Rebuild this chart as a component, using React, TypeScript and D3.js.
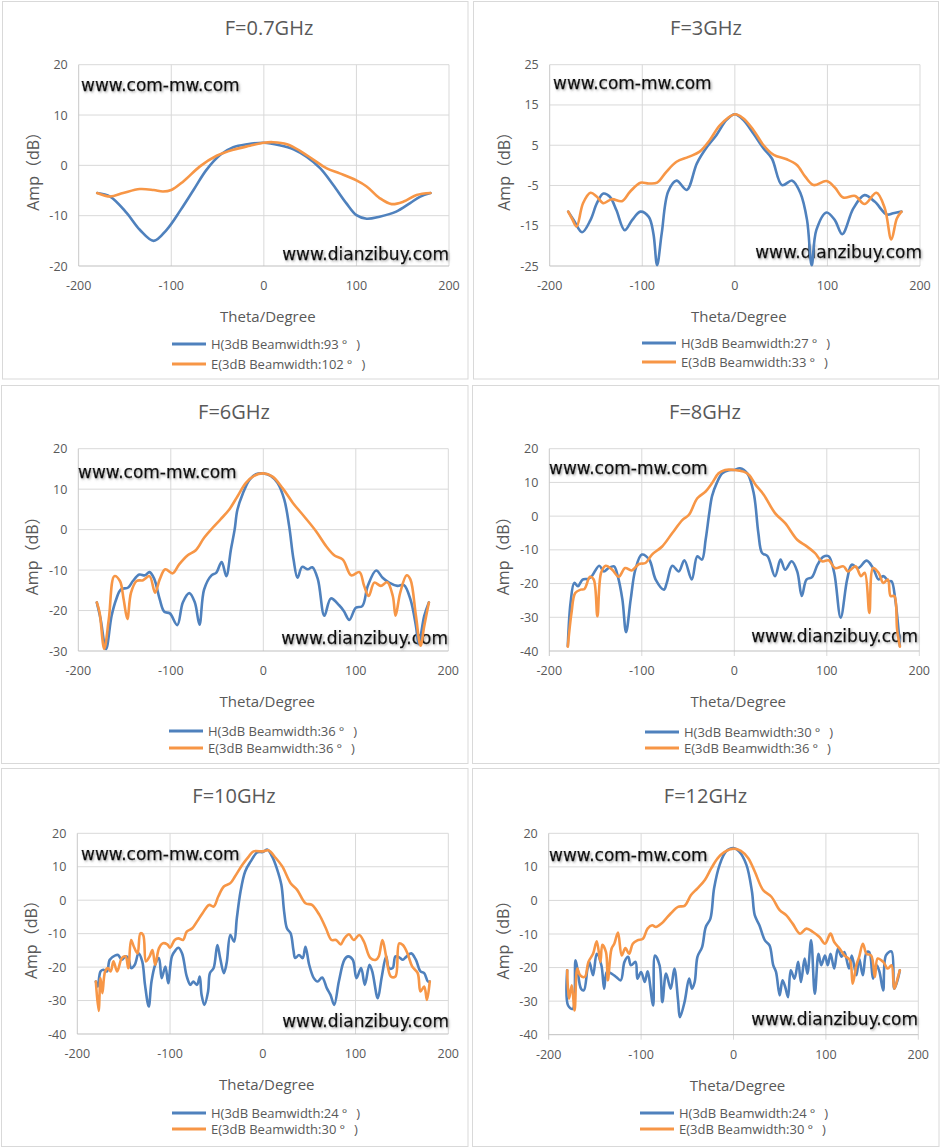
import React from 'react';
import * as d3 from 'd3';

type Pt = [number, number];

// ---------- DATA ----------
const titles = ['F=0.7GHz', 'F=3GHz', 'F=6GHz', 'F=8GHz', 'F=10GHz', 'F=12GHz'];
const hBeam = ['93', '27', '36', '30', '24', '24'];
const eBeam = ['102', '33', '36', '36', '30', '30'];
const xTicks = [-200, -100, 0, 100, 200];
const yTicks07 = [-20, -10, 0, 10, 20];
const yTicks3 = [-25, -15, -5, 5, 15, 25];
const yTicks6 = [-30, -20, -10, 0, 10, 20];
const yTicks8 = [-40, -30, -20, -10, 0, 10, 20];
const yTicks10 = [-40, -30, -20, -10, 0, 10, 20];
const yTicks12 = [-40, -30, -20, -10, 0, 10, 20];

const f07H: Pt[] = [[-180,-5.5],[-166,-6.2],[-148,-9.5],[-134,-12.8],[-119,-15],[-105,-12.8],[-90,-8.9],[-76,-4.9],[-62,-0.9],[-47,2.1],[-33,3.6],[-18,4.2],[0,4.5],[17,4.0],[32,3.2],[46,1.7],[61,-0.6],[75,-3.9],[89,-7.5],[100,-9.9],[111,-10.6],[125,-10.2],[143,-9.2],[158,-7.5],[169,-6.2],[180,-5.5]];
const f07E: Pt[] = [[-180,-5.5],[-166,-6.2],[-152,-5.5],[-134,-4.7],[-119,-4.9],[-109,-5.2],[-100,-4.9],[-87,-3.2],[-69,-0.2],[-51,1.9],[-33,3.1],[-15,3.9],[0,4.5],[10,4.6],[25,4.2],[39,2.9],[53,1.2],[68,-0.6],[82,-1.6],[100,-3.0],[111,-4.2],[125,-6.5],[138,-7.7],[151,-7.2],[165,-5.9],[180,-5.5]];

const f3H: Pt[] = [[-180,-11.5],[-174,-13.6],[-165,-16.6],[-156,-13.6],[-149,-9.4],[-142,-7.0],[-135,-7.8],[-128,-11.1],[-119,-16.1],[-111,-13.6],[-102,-11.5],[-93,-12.8],[-88,-16.9],[-84,-24.8],[-79,-16.9],[-72,-6.5],[-63,-3.8],[-52,-6.1],[-41,0.5],[-30,4.6],[-20,7.5],[-9,11.3],[0,12.7],[9,11.3],[20,7.9],[31,4.2],[40,1.7],[51,-4.9],[62,-3.8],[71,-7.0],[78,-13.6],[83,-24.8],[88,-16.1],[99,-11.7],[108,-13.6],[116,-17.1],[128,-10.7],[140,-7.4],[151,-9.0],[164,-12.2],[171,-11.9],[180,-11.5]];
const f3E: Pt[] = [[-180,-11.5],[-176,-13.2],[-171,-15.2],[-164,-9.4],[-156,-6.8],[-149,-7.8],[-142,-9.4],[-133,-8.4],[-122,-8.9],[-113,-6.5],[-102,-4.3],[-93,-4.5],[-84,-4.3],[-74,-1.6],[-63,0.9],[-50,2.1],[-38,3.4],[-27,6.3],[-16,10.0],[0,12.7],[9,11.7],[20,8.8],[31,5.0],[42,2.6],[56,1.5],[67,0.1],[76,-2.8],[85,-4.9],[99,-3.9],[108,-5.5],[117,-8.0],[130,-7.6],[140,-9.6],[153,-6.8],[162,-10.7],[169,-18.4],[175,-13.2],[180,-11.5]];

const f6H: Pt[] = [[-180,-18],[-176,-22],[-170,-29.5],[-164,-21.3],[-159,-17.2],[-154,-14.8],[-146,-14.3],[-141,-12.7],[-134,-11.1],[-128,-11.3],[-123,-10.5],[-118,-12.1],[-112,-17.2],[-107,-20.3],[-101,-20.7],[-93,-23.6],[-87,-18],[-80,-15.7],[-74,-18],[-69,-23.5],[-64,-14.8],[-56,-11.3],[-51,-10.7],[-45,-8],[-40,-11.5],[-35,-4.9],[-31,0],[-28,4.9],[-22,9],[-15,12.3],[-8,13.7],[0,13.9],[8,13.3],[15.5,11.5],[22.7,7.4],[28,0.8],[32.7,-7.4],[37,-11.9],[42,-9.2],[48,-9.8],[53,-9.3],[59,-12.3],[66,-21.3],[73,-17],[82,-18.7],[87,-20.1],[93,-22.3],[100,-19.3],[107,-18.9],[113,-13.9],[122,-10.1],[129,-11.9],[136,-13.1],[145,-13.9],[152,-13.7],[159,-17.2],[165,-23.8],[168,-28.3],[174,-21.3],[179,-18]];
const f6E: Pt[] = [[-180,-18],[-177,-20.5],[-172,-29.5],[-167,-22.1],[-161,-11.5],[-155,-12.7],[-151,-17.2],[-147,-22.1],[-143,-15.6],[-137,-12.7],[-130,-12.5],[-123,-11.5],[-117,-15.6],[-112,-12.3],[-106,-9.8],[-98,-10.8],[-91,-8.6],[-82,-6.4],[-73,-5.1],[-64,-2],[-55,0.4],[-46,2.6],[-37,4.9],[-28,8.2],[-19,11.5],[-10,13.3],[0,13.9],[10,13.1],[21,10.2],[32,6.6],[44,3.3],[57,-0.4],[68,-4.1],[77,-6.4],[86,-7.4],[95,-11.3],[104,-10.5],[109,-13.9],[114,-16.4],[120,-13.1],[127,-13.9],[134,-13],[140,-16.4],[143,-21.3],[148,-15.6],[155,-11.3],[159,-12.3],[165,-21.3],[170,-28.7],[174,-23.8],[179,-18]];

const f8H: Pt[] = [[-180,-38.5],[-177,-25.7],[-173,-19.8],[-169,-20.8],[-164,-18.8],[-158,-18.6],[-154,-17.8],[-146,-14.7],[-141,-16.4],[-136,-15.4],[-130,-14.9],[-126,-17.8],[-121,-24.7],[-117,-34.4],[-112,-24.7],[-107,-15.9],[-100,-11.4],[-92,-12.9],[-85,-18.8],[-76,-21.8],[-73,-19.8],[-67,-14.7],[-60,-16.4],[-54,-13.1],[-46,-18.8],[-40,-11.9],[-35,-12.9],[-31,-7],[-27,1],[-24,6],[-19,9.8],[-13,12.7],[-6,13.6],[0,13.7],[6,14.2],[14,12.7],[21,6.8],[26,-5],[30,-10.9],[36,-11.9],[44,-17.8],[50,-12.9],[55,-15.9],[62,-13.4],[68,-16.4],[73,-23.7],[78,-18.8],[84,-18.1],[90,-14.4],[96,-12.1],[102,-11.9],[108,-16.8],[115,-30.1],[122,-18.8],[127,-14.4],[134,-15.4],[143,-13.2],[150,-15.4],[156,-18.8],[161,-17.8],[167,-19.3],[170,-19.3],[174,-24.7],[179,-38.5]];
const f8E: Pt[] = [[-180,-38.7],[-176,-28.7],[-172,-22.8],[-166,-21.8],[-162,-21.6],[-156,-18],[-152,-18.8],[-148,-29.7],[-144,-16.8],[-139,-14.7],[-132,-15.9],[-125,-18],[-118,-15.4],[-111,-16.1],[-103,-14.2],[-96,-13.9],[-89,-11.4],[-78,-9],[-67,-5],[-56,-1.1],[-49,0.4],[-40,5.3],[-31,7.3],[-24,9.8],[-17,12.7],[-10,13.7],[0,13.7],[10,13.2],[16,12.2],[23,9.3],[32,6.3],[44,0.9],[55,-2.1],[68,-7],[78,-8.9],[87,-10.9],[95,-13.4],[102,-13.1],[109,-15.4],[118,-14.9],[123,-16.4],[131,-14.9],[137,-17.8],[141,-16.8],[146,-28.7],[150,-15.4],[156,-16.8],[161,-19.8],[166,-18.8],[169,-23.7],[173,-23.7],[176,-33.6],[179,-38.7]];

const f10H: Pt[] = [[-180,-24.3],[-178,-25.8],[-175,-21.3],[-172,-20.8],[-168,-21.3],[-165,-17.8],[-159,-16.5],[-156,-16.4],[-152,-17.8],[-148,-16.8],[-145,-17.3],[-142,-20.3],[-138,-19.3],[-134,-15.9],[-130,-18.3],[-127,-25.3],[-123,-31.8],[-120,-24.3],[-116,-19.3],[-112,-17.3],[-109,-23.3],[-105,-19.8],[-102,-24.8],[-98,-16.8],[-94,-14.9],[-91,-14.2],[-87,-15.9],[-82,-22.8],[-78,-25.3],[-75,-24.3],[-71,-25.3],[-68,-22.8],[-66,-28.3],[-63,-31.3],[-59,-27.3],[-57,-21.8],[-53,-20.3],[-49,-13.4],[-46,-17.3],[-42,-21.8],[-39,-18.8],[-35,-10.4],[-31,-12.4],[-28,-5.4],[-24,2.6],[-19,8.6],[-13,11.6],[-6,14.3],[0,14.4],[5,15.1],[10,13.1],[15,9.6],[20,4.6],[23,-3.4],[26,-8.4],[30,-9.9],[33,-14.9],[35,-17.3],[39,-16.4],[43,-17.3],[46,-13.9],[50,-19.3],[55,-23.3],[59,-24.3],[64,-23.1],[69,-26.3],[73,-28.3],[77,-31.3],[82,-24.3],[88,-17.8],[92,-16.8],[97,-17.8],[101,-23.3],[106,-20.3],[110,-25.3],[115,-19.3],[118,-21.3],[124,-29.3],[128,-23.3],[133,-16.8],[136,-20.3],[140,-20.3],[143,-16.8],[147,-17.1],[151,-17.8],[154,-17.1],[160,-15.9],[165,-17.8],[170,-21.3],[174,-21.8],[178,-24.3],[180,-24.3]];
const f10E: Pt[] = [[-180,-24.3],[-177,-33.1],[-175,-23.3],[-173,-27.8],[-170,-21.3],[-167,-20.3],[-164,-21.3],[-161,-18.3],[-157,-21.3],[-152,-17.3],[-148,-16.8],[-145,-20.3],[-142,-11.9],[-139,-13.9],[-135,-15.9],[-132,-9.9],[-129,-10.4],[-126,-18.3],[-122,-16.8],[-119,-14.9],[-116,-19.3],[-112,-14.4],[-108,-12.9],[-103,-13.2],[-100,-14.2],[-95,-11.9],[-91,-11.4],[-86,-11.9],[-82,-9.4],[-76,-8.4],[-71,-6.4],[-65,-3.9],[-58,-1.4],[-53,-1.9],[-48,1.1],[-42,4.1],[-35,5.1],[-30,7.1],[-22,10.6],[-15,13.1],[-10,14.6],[0,14.6],[6,14.9],[14,12.6],[21,10.1],[30,5.1],[37,3.1],[46,-0.9],[53,-1.4],[61,-4.4],[68,-8.4],[74,-11.9],[79,-11.9],[84,-13.2],[88,-11.4],[93,-10.2],[98,-11.9],[104,-10.4],[109,-12.4],[116,-17.3],[122,-17.8],[125,-16.8],[129,-11.9],[133,-16.8],[138,-22.8],[143,-22.8],[147,-12.9],[151,-13.4],[156,-15.9],[161,-19.8],[167,-21.8],[170,-27.3],[174,-25.8],[177,-29.8],[180,-24.3]];

const f12H: Pt[] = [[-180,-20.8],[-179,-31.3],[-174,-32.3],[-171,-17.8],[-169,-20.3],[-165,-26.3],[-162,-26.8],[-158,-20.3],[-156,-18.3],[-152,-22.3],[-148,-15.9],[-143,-19.3],[-140,-26.3],[-137,-21.3],[-132,-21.8],[-127,-22.8],[-122,-23.8],[-118,-18.3],[-114,-16.8],[-111,-19.3],[-106,-18.3],[-104,-23.3],[-100,-21.3],[-96,-24.3],[-93,-21.1],[-87,-31.3],[-85,-16.4],[-80,-19.3],[-77,-30.3],[-73,-21.8],[-68,-26.3],[-64,-20.3],[-60,-29.8],[-58,-34.8],[-53,-30.3],[-48,-23.3],[-45,-26.3],[-42,-24.3],[-39,-16.8],[-34,-13.9],[-30,-7.9],[-25,-5.4],[-21,3.6],[-15,10.6],[-8,14.6],[0,15.6],[6,14.6],[14,10.6],[20,2.6],[23,-4.4],[28,-7.4],[34,-11.9],[39,-13.4],[43,-19.3],[46,-21.3],[50,-28.3],[53,-23.8],[56,-25.8],[59,-28.8],[62,-20.8],[66,-23.3],[70,-18.3],[73,-24.3],[77,-17.3],[80,-21.8],[84,-11.9],[88,-27.8],[92,-15.9],[95,-19.3],[99,-16.4],[102,-19.3],[105,-15.9],[109,-20.3],[113,-14.4],[117,-16.8],[120,-15.4],[125,-20.3],[128,-16.4],[133,-22.3],[136,-17.3],[140,-22.3],[144,-15.4],[147,-15.4],[151,-23.3],[155,-19.3],[158,-21.3],[162,-26.8],[165,-16.4],[171,-15.2],[174,-26.3],[178,-23.3],[180,-20.8]];
const f12E: Pt[] = [[-180,-20.8],[-178,-29.3],[-175,-25.3],[-172,-32.8],[-169,-20.3],[-166,-22.3],[-161,-22.8],[-157,-18.3],[-152,-15.9],[-148,-12.2],[-144,-18.3],[-142,-13.2],[-138,-15.4],[-136,-23.8],[-132,-14.4],[-129,-12.9],[-125,-9.6],[-121,-16.4],[-117,-14.2],[-113,-15.9],[-109,-12.9],[-104,-11.9],[-98,-11.4],[-93,-8.4],[-88,-7.4],[-84,-7.9],[-78,-6.9],[-73,-5.4],[-68,-3.9],[-60,-1.9],[-53,-1.6],[-46,1.6],[-39,3.6],[-31,6.1],[-24,9.6],[-17,12.6],[-10,14.4],[0,15.4],[8,14.8],[16,12.6],[23,8.6],[32,3.1],[41,1.1],[50,-2.9],[57,-4.4],[64,-6.9],[72,-9.9],[79,-8.4],[86,-9.4],[93,-10.9],[99,-12.9],[105,-9.9],[109,-12.4],[115,-14.4],[120,-16.4],[126,-17.8],[129,-24.8],[133,-19.3],[136,-16.8],[140,-12.9],[144,-15.9],[149,-16.4],[153,-22.8],[156,-17.3],[162,-18.3],[167,-20.3],[171,-19.3],[174,-26.3],[178,-22.8],[180,-20.8]];

const seriesH = [f07H, f3H, f6H, f8H, f10H, f12H];
const seriesE = [f07E, f3E, f6E, f8E, f10E, f12E];
const yTickSets = [yTicks07, yTicks3, yTicks6, yTicks8, yTicks10, yTicks12];

// ---------- LAYOUT ----------
type Layout = {
  box: [number, number, number, number];
  plot: [number, number, number, number];
  titleX: number; titleY: number;
  legX: number; legY: [number, number];
  wm1: [number, number]; wm2: [number, number];
  ticks: boolean;
};
const layouts: Layout[] = [
  { box: [2.5, 1.5, 465.5, 377.5], plot: [78.7, 64.7, 449, 266], titleX: 269, titleY: 35, legX: 172, legY: [344, 364], wm1: [81, 91], wm2: [449, 260], ticks: false },
  { box: [473.5, 1.5, 465, 377.5], plot: [549.7, 64.7, 920, 266], titleX: 706, titleY: 35, legX: 642, legY: [343, 362], wm1: [553, 89], wm2: [922, 257.5], ticks: false },
  { box: [1.5, 385.5, 466.5, 378], plot: [78.3, 448.7, 448.3, 651], titleX: 234, titleY: 418.5, legX: 169, legY: [731, 748], wm1: [78, 477.5], wm2: [448, 644], ticks: false },
  { box: [472.5, 385.5, 466.5, 378], plot: [549.3, 448.7, 919.3, 651], titleX: 705, titleY: 418.5, legX: 645, legY: [732, 748], wm1: [549, 474], wm2: [918, 641.5], ticks: true },
  { box: [1.5, 768.5, 466.5, 378], plot: [77.3, 833.3, 448.3, 1034], titleX: 234, titleY: 803, legX: 172, legY: [1113, 1129], wm1: [81, 859.5], wm2: [449, 1027], ticks: false },
  { box: [472.5, 768.5, 466.5, 378], plot: [548.7, 833.3, 918.3, 1034.7], titleX: 705.5, titleY: 803, legX: 640, legY: [1113, 1129], wm1: [549, 860.5], wm2: [918, 1024.5], ticks: true },
];

const BLUE = '#4F81BD';
const ORANGE = '#F79646';
const GRID = '#d9d9d9';
const TEXT = '#595959';
const FONT = "'Open Sans', 'Noto Sans CJK SC', sans-serif";
const WMFONT = "'DejaVu Sans', Verdana, sans-serif";

function LegendText({ x, y, prefix, bw }: { x: number; y: number; prefix: string; bw: string }) {
  return (
    <text x={x} y={y} fontFamily={FONT} fontSize={13} fill={TEXT}>
      {`${prefix}(3dB Beamwidth:${bw}`}
      <tspan dx={3}>°</tspan>
      <tspan dx={9}>)</tspan>
    </text>
  );
}

function Panel({ L, idx }: { L: Layout; idx: number }) {
  const [px0, py0, px1, py1] = L.plot;
  const yt = yTickSets[idx];
  const x = d3.scaleLinear().domain([-200, 200]).range([px0, px1]);
  const y = d3.scaleLinear().domain([yt[0], yt[yt.length - 1]]).range([py1, py0]);
  const line = d3.line<Pt>().x(d => x(d[0])).y(d => y(d[1])).curve(d3.curveCatmullRom.alpha(0.5));
  const cx = (px0 + px1) / 2;
  const cy = (py0 + py1) / 2;
  return (
    <g>
      <rect x={L.box[0]} y={L.box[1]} width={L.box[2]} height={L.box[3]} fill="#fff" stroke={GRID} strokeWidth={1} />
      <text x={L.titleX} y={L.titleY} textAnchor="middle" fontFamily={FONT} fontSize={20} fill={TEXT}>{titles[idx]}</text>
      {yt.slice(1).map(t => (
        <line key={'h' + t} x1={px0} x2={px1} y1={y(t)} y2={y(t)} stroke={GRID} strokeWidth={1} />
      ))}
      {xTicks.slice(1).map(t => (
        <line key={'v' + t} x1={x(t)} x2={x(t)} y1={py0} y2={py1 + (L.ticks ? 5 : 0)} stroke={GRID} strokeWidth={1} />
      ))}
      <line x1={px0} x2={px0} y1={py0} y2={py1 + (L.ticks ? 5 : 0)} stroke="#c8c8c8" strokeWidth={1} />
      <line x1={px0} x2={px1} y1={py1} y2={py1} stroke="#bfbfbf" strokeWidth={1} />
      {yt.map(t => (
        <text key={'yl' + t} x={px0 - 11} y={y(t) + 4.5} textAnchor="end" fontFamily={FONT} fontSize={12.5} fill={TEXT}>{t}</text>
      ))}
      {xTicks.map(t => (
        <text key={'xl' + t} x={x(t)} y={py1 + 24} textAnchor="middle" fontFamily={FONT} fontSize={12.5} fill={TEXT}>{t}</text>
      ))}
      <text x={cx + 4} y={py1 + 56} textAnchor="middle" fontFamily={FONT} fontSize={15} fill={TEXT}>Theta/Degree</text>
      <text transform={`translate(${px0 - 40},${cy + 2}) rotate(-90)`} textAnchor="middle" fontFamily={FONT} fontSize={16} fill={TEXT}>Amp（dB）</text>
      <g filter="url(#wmshadow)">
        <text x={L.wm1[0]} y={L.wm1[1]} fontFamily={WMFONT} fontSize={17} fill="#111" stroke="#111" strokeWidth={0.25}>www.com-mw.com</text>
        <text x={L.wm2[0]} y={L.wm2[1]} textAnchor="end" fontFamily={WMFONT} fontSize={17} fill="#111" stroke="#111" strokeWidth={0.25}>www.dianzibuy.com</text>
      </g>
      <path d={line(seriesH[idx]) || ''} fill="none" stroke={BLUE} strokeWidth={2.6} strokeLinejoin="round" strokeLinecap="round" />
      <path d={line(seriesE[idx]) || ''} fill="none" stroke={ORANGE} strokeWidth={2.6} strokeLinejoin="round" strokeLinecap="round" />
      <line x1={L.legX} x2={L.legX + 34} y1={L.legY[0]} y2={L.legY[0]} stroke={BLUE} strokeWidth={2.8} />
      <line x1={L.legX} x2={L.legX + 34} y1={L.legY[1]} y2={L.legY[1]} stroke={ORANGE} strokeWidth={2.8} />
      <LegendText x={L.legX + 39} y={L.legY[0] + 4.5} prefix="H" bw={hBeam[idx]} />
      <LegendText x={L.legX + 39} y={L.legY[1] + 4.5} prefix="E" bw={eBeam[idx]} />
    </g>
  );
}

export default function App() {
  return (
    <svg width={940} height={1148} viewBox="0 0 940 1148" style={{ position: 'absolute', left: 0, top: 0, background: '#fff' }}>
      <defs>
        <filter id="wmshadow" x="-10%" y="-50%" width="130%" height="200%">
          <feDropShadow dx={1.2} dy={1.2} stdDeviation={0.9} floodColor="#666" floodOpacity={0.6} />
        </filter>
      </defs>
      <rect x={0} y={0} width={940} height={1148} fill="#fff" />
      {layouts.map((L, i) => <Panel key={i} L={L} idx={i} />)}
    </svg>
  );
}
